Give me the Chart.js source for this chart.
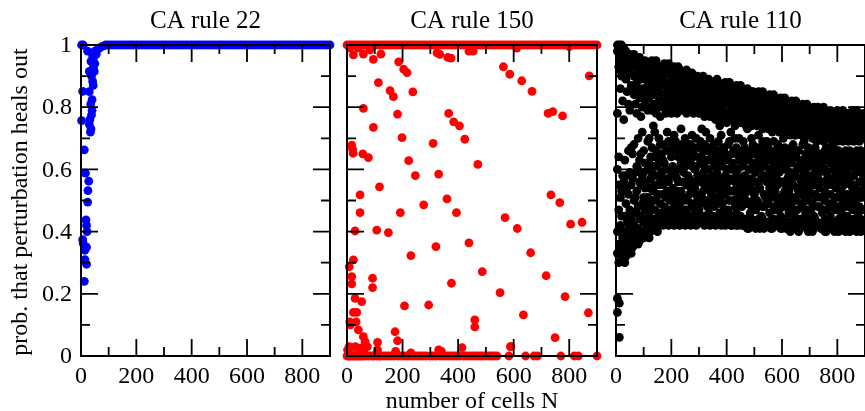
<!DOCTYPE html>
<html>
<head>
<meta charset="utf-8">
<script src="https://cdn.jsdelivr.net/npm/chart.js@4.4.0/dist/chart.umd.min.js"></script>
<style>
  body { margin: 0; background: #fff; }
  #wrap { position: relative; width: 865px; height: 411px; overflow: hidden; background: #fff; }
  #wrap canvas { position: absolute; left: 0; top: 0; }
</style>
</head>
<body>
<div id="wrap">
  <canvas id="c22" width="865" height="411"></canvas>
  <canvas id="c150" width="865" height="411"></canvas>
  <canvas id="c110" width="865" height="411"></canvas>
</div>
<script>
// axis ticks
const xMajor = [0, 200, 400, 600, 800];
const xMinor = [100, 300, 500, 700];
const xTickLabels = ['0', '200', '400', '600', '800'];
const yMajor = [0, 0.2, 0.4, 0.6, 0.8, 1];
const yMinor = [0.1, 0.3, 0.5, 0.7, 0.9];
const yTickLabels = ['0', '0.2', '0.4', '0.6', '0.8', '1'];

// CA rule 22: scattered small-N points, then saturated at 1
const rule22Points = [
  [2, 1.0], [8, 1.0], [24, 0.98], [36, 0.947], [42, 0.965], [45, 0.975], [50, 0.98],
  [30, 0.915], [48, 0.915], [42, 0.883], [6, 0.851], [30, 0.85], [40, 0.824], [40, 0.79],
  [38, 0.775], [2, 0.757], [30, 0.745], [36, 0.73], [34, 0.72], [12, 0.663], [16, 0.588],
  [28, 0.562], [25, 0.532], [24, 0.495], [18, 0.438], [20, 0.42], [22, 0.40], [6, 0.374],
  [8, 0.362], [20, 0.35], [14, 0.34], [14, 0.31], [20, 0.295], [12, 0.24],
  [44, 0.955], [55, 0.97], [60, 0.985], [66, 0.99], [75, 0.995], [85, 0.998],
  [45, 0.93], [50, 0.94], [38, 0.90], [44, 0.87], [35, 0.81], [32, 0.76]
];
const rule22OnesN = [90, 100, 110, 120, 130, 140, 150, 160, 170, 180, 190, 200, 210, 220, 230, 240,
  250, 260, 270, 280, 290, 300, 310, 320, 330, 340, 350, 360, 370, 380, 390, 400, 410, 420, 430,
  440, 450, 460, 470, 480, 490, 500, 510, 520, 530, 540, 550, 560, 570, 580, 590, 600, 610, 620,
  630, 640, 650, 660, 670, 680, 690, 700, 710, 720, 730, 740, 750, 760, 770, 780, 790, 800, 810,
  820, 830, 840, 850, 860, 870, 880, 890, 900];

// CA rule 150
const rule150Points = [
  [23, 0.968], [59, 0.971], [83, 0.984], [95, 0.954], [122, 0.971], [186, 0.946], [204, 0.922],
  [216, 0.911], [113, 0.879], [155, 0.853], [167, 0.834], [237, 0.849], [59, 0.796], [182, 0.778],
  [95, 0.735], [198, 0.702], [17, 0.678], [20, 0.665], [22, 0.652], [57, 0.65], [77, 0.638],
  [222, 0.628], [246, 0.58], [310, 0.684], [330, 0.585], [47, 0.518], [117, 0.544], [47, 0.461],
  [29, 0.402], [107, 0.405], [149, 0.397], [192, 0.461], [276, 0.486], [360, 0.505], [394, 0.461],
  [366, 0.78], [384, 0.753], [405, 0.74], [424, 0.697], [471, 0.616], [439, 0.364], [320, 0.352],
  [230, 0.323], [23, 0.309], [8, 0.287], [17, 0.255], [17, 0.232], [92, 0.25], [92, 0.22],
  [487, 0.271], [376, 0.234], [551, 0.204], [29, 0.185], [53, 0.175], [294, 0.164], [207, 0.161],
  [23, 0.14], [35, 0.14], [10, 0.11], [33, 0.11], [12, 0.10], [41, 0.084], [59, 0.062], [65, 0.046],
  [73, 0.03], [173, 0.078], [182, 0.049], [110, 0.044], [460, 0.116], [460, 0.094], [414, 0.027],
  [589, 0.03], [635, 0.132], [749, 0.059], [785, 0.191], [869, 0.139], [563, 0.93], [586, 0.906],
  [629, 0.885], [666, 0.851], [724, 0.78], [741, 0.786], [776, 0.772], [872, 0.901], [734, 0.518],
  [766, 0.493], [805, 0.424], [846, 0.43], [569, 0.445], [613, 0.41], [661, 0.332], [717, 0.258],
  [324, 0.975], [334, 0.97], [363, 0.96], [375, 0.958], [439, 0.98], [454, 0.98], [611, 0.99],
  [800, 0.995], [10, 0.99], [40, 0.99],
  [2, 0.02], [12, 0.025], [40, 0.02], [60, 0.015], [110, 0.02], [175, 0.015], [230, 0.01],
  [330, 0.02], [340, 0.015], [589, 0.03], [8, 0.03], [30, 0.03], [50, 0.025]
];
const rule150OnesN = [0, 10, 20, 30, 40, 50, 60, 70, 80, 90, 100, 110, 120, 130, 140, 150, 160, 170,
  180, 190, 200, 210, 220, 230, 240, 250, 260, 270, 280, 290, 300, 310, 320, 330, 340, 350, 360,
  370, 380, 390, 400, 410, 420, 430, 440, 450, 460, 470, 480, 490, 500, 510, 520, 530, 540, 550,
  560, 570, 580, 590, 600, 610, 620, 630, 640, 650, 660, 670, 680, 690, 700, 710, 720, 730, 740,
  750, 760, 770, 780, 790, 800, 810, 820, 830, 840, 850, 860, 870, 880, 890, 900];
const rule150ZerosN = [0, 5, 10, 15, 20, 25, 30, 35, 40, 45, 50, 55, 60, 70, 80, 90, 95, 105, 115,
  120, 130, 140, 150, 160, 170, 185, 195, 205, 215, 225, 235, 245, 255, 265, 275, 285, 300, 310,
  320, 335, 345, 355, 365, 375, 385, 395, 405, 420, 430, 440, 450, 460, 470, 480, 490, 500, 510,
  520, 530, 540, 583, 643, 673, 686, 770, 818, 833, 900];

// CA rule 110: values per N column (odd columns)
const rule110N = [5, 12, 20, 28, 36, 45, 55, 65, 75, 85, 95, 105, 115, 125, 135, 145, 155, 165, 175,
  185, 195, 205, 215, 225, 235, 245, 255, 265, 275, 285, 295, 305, 315, 325, 335, 345, 355, 365,
  375, 385, 395, 405, 415, 425, 435, 445, 455, 465, 475, 485, 495, 505, 515, 525, 535, 545, 555,
  565, 575, 585, 595, 605, 615, 625, 635, 645, 655, 665, 675, 685, 695, 705, 715, 725, 735, 745,
  755, 765, 775, 785, 795, 805, 815, 825, 835, 845, 855, 865, 875, 885, 895];
const rule110P = [
  [1.0, 0.98, 0.78, 0.60, 0.40, 0.33, 0.185, 0.14],
  [1.0, 0.95, 0.92, 0.55, 0.36, 0.17, 0.06],
  [1.0, 0.97, 0.90, 0.53, 0.45, 0.31],
  [0.99, 0.94, 0.76, 0.56, 0.40, 0.34],
  [0.98, 0.89, 0.58, 0.49, 0.38, 0.32],
  [0.96, 0.92, 0.81, 0.66, 0.52, 0.41, 0.35],
  [0.95, 0.87, 0.67, 0.55, 0.44, 0.37, 0.33],
  [0.97, 0.90, 0.84, 0.68, 0.50, 0.42, 0.36],
  [0.94, 0.88, 0.78, 0.61, 0.53, 0.46, 0.38],
  [0.96, 0.91, 0.83, 0.63, 0.56, 0.44, 0.37],
  [0.93, 0.86, 0.80, 0.72, 0.58, 0.49, 0.40],
  [0.95, 0.89, 0.82, 0.62, 0.54, 0.47, 0.39],
  [0.93, 0.87, 0.79, 0.69, 0.60, 0.51, 0.42],
  [0.94, 0.90, 0.84, 0.64, 0.57, 0.48, 0.40],
  [0.92, 0.86, 0.81, 0.74, 0.61, 0.53, 0.44],
  [0.95, 0.88, 0.78, 0.66, 0.58, 0.50, 0.41],
  [0.91, 0.85, 0.82, 0.70, 0.63, 0.55, 0.46, 0.42],
  [0.93, 0.89, 0.80, 0.65, 0.59, 0.52, 0.43],
  [0.94, 0.87, 0.83, 0.68, 0.62, 0.48, 0.44],
  [0.91, 0.86, 0.79, 0.72, 0.57, 0.53, 0.45],
  [0.93, 0.88, 0.81, 0.66, 0.60, 0.50, 0.43],
  [0.92, 0.85, 0.80, 0.67, 0.61, 0.54, 0.47, 0.43],
  [0.90, 0.87, 0.82, 0.69, 0.58, 0.51, 0.44],
  [0.93, 0.84, 0.79, 0.64, 0.56, 0.49, 0.43],
  [0.91, 0.88, 0.81, 0.73, 0.62, 0.53, 0.46, 0.44],
  [0.89, 0.85, 0.80, 0.66, 0.59, 0.50, 0.43],
  [0.92, 0.86, 0.78, 0.68, 0.63, 0.55, 0.47, 0.44],
  [0.90, 0.83, 0.80, 0.65, 0.57, 0.52, 0.43],
  [0.91, 0.87, 0.82, 0.71, 0.61, 0.48, 0.45],
  [0.89, 0.84, 0.79, 0.67, 0.60, 0.54, 0.46, 0.43],
  [0.90, 0.86, 0.81, 0.64, 0.58, 0.51, 0.44],
  [0.88, 0.83, 0.79, 0.69, 0.62, 0.56, 0.49, 0.43],
  [0.90, 0.85, 0.80, 0.66, 0.59, 0.53, 0.45],
  [0.87, 0.84, 0.78, 0.72, 0.63, 0.57, 0.50, 0.43],
  [0.89, 0.82, 0.79, 0.67, 0.60, 0.54, 0.46, 0.44],
  [0.88, 0.85, 0.80, 0.65, 0.58, 0.52, 0.43],
  [0.86, 0.83, 0.78, 0.68, 0.62, 0.55, 0.48, 0.44],
  [0.89, 0.84, 0.80, 0.66, 0.59, 0.51, 0.43],
  [0.87, 0.82, 0.77, 0.74, 0.64, 0.57, 0.53, 0.46, 0.43],
  [0.86, 0.84, 0.79, 0.67, 0.61, 0.55, 0.49, 0.44],
  [0.88, 0.83, 0.78, 0.65, 0.58, 0.52, 0.42],
  [0.86, 0.81, 0.77, 0.68, 0.63, 0.56, 0.47, 0.43],
  [0.87, 0.84, 0.79, 0.72, 0.60, 0.53, 0.45, 0.42],
  [0.85, 0.82, 0.77, 0.66, 0.62, 0.57, 0.50, 0.43],
  [0.87, 0.83, 0.78, 0.67, 0.59, 0.54, 0.46, 0.42],
  [0.85, 0.81, 0.76, 0.70, 0.64, 0.56, 0.51, 0.44],
  [0.86, 0.83, 0.78, 0.65, 0.61, 0.55, 0.48, 0.42],
  [0.84, 0.80, 0.77, 0.67, 0.58, 0.52, 0.44],
  [0.86, 0.82, 0.76, 0.73, 0.63, 0.57, 0.49, 0.43, 0.41],
  [0.84, 0.81, 0.78, 0.66, 0.60, 0.54, 0.46, 0.42],
  [0.85, 0.79, 0.75, 0.68, 0.62, 0.56, 0.50, 0.43],
  [0.83, 0.81, 0.77, 0.65, 0.59, 0.53, 0.47, 0.41],
  [0.85, 0.80, 0.76, 0.71, 0.64, 0.55, 0.49, 0.44],
  [0.83, 0.79, 0.75, 0.66, 0.61, 0.57, 0.45, 0.42],
  [0.84, 0.81, 0.77, 0.67, 0.58, 0.52, 0.48, 0.41],
  [0.82, 0.79, 0.74, 0.69, 0.63, 0.56, 0.50, 0.43],
  [0.84, 0.80, 0.76, 0.65, 0.60, 0.54, 0.46, 0.42],
  [0.82, 0.78, 0.75, 0.72, 0.64, 0.57, 0.51, 0.44, 0.41],
  [0.83, 0.80, 0.76, 0.66, 0.59, 0.53, 0.47, 0.42],
  [0.81, 0.78, 0.74, 0.68, 0.62, 0.55, 0.49, 0.43],
  [0.83, 0.79, 0.75, 0.65, 0.60, 0.56, 0.45, 0.41],
  [0.81, 0.77, 0.73, 0.70, 0.63, 0.52, 0.48, 0.42],
  [0.82, 0.79, 0.75, 0.66, 0.61, 0.55, 0.50, 0.44, 0.41],
  [0.80, 0.77, 0.74, 0.64, 0.58, 0.53, 0.46, 0.42],
  [0.82, 0.78, 0.73, 0.67, 0.62, 0.56, 0.49, 0.43],
  [0.80, 0.76, 0.74, 0.71, 0.65, 0.59, 0.51, 0.45, 0.41],
  [0.81, 0.78, 0.72, 0.66, 0.60, 0.54, 0.47, 0.42],
  [0.79, 0.76, 0.74, 0.63, 0.57, 0.52, 0.44, 0.41],
  [0.81, 0.77, 0.73, 0.68, 0.62, 0.55, 0.49, 0.43],
  [0.79, 0.75, 0.72, 0.65, 0.60, 0.53, 0.46, 0.42],
  [0.80, 0.77, 0.73, 0.67, 0.63, 0.56, 0.50, 0.44, 0.40],
  [0.78, 0.75, 0.71, 0.64, 0.58, 0.52, 0.47, 0.42],
  [0.80, 0.76, 0.72, 0.66, 0.61, 0.55, 0.45, 0.41],
  [0.78, 0.74, 0.71, 0.69, 0.63, 0.57, 0.51, 0.43],
  [0.79, 0.76, 0.72, 0.65, 0.59, 0.54, 0.48, 0.42],
  [0.78, 0.74, 0.70, 0.64, 0.61, 0.56, 0.46, 0.41],
  [0.79, 0.75, 0.72, 0.66, 0.60, 0.53, 0.50, 0.44, 0.40],
  [0.77, 0.74, 0.71, 0.63, 0.58, 0.55, 0.47, 0.42],
  [0.79, 0.75, 0.70, 0.65, 0.62, 0.52, 0.45, 0.41],
  [0.77, 0.73, 0.71, 0.67, 0.60, 0.57, 0.49, 0.43],
  [0.78, 0.75, 0.72, 0.64, 0.59, 0.54, 0.47, 0.42],
  [0.77, 0.74, 0.70, 0.66, 0.61, 0.56, 0.51, 0.44, 0.40],
  [0.78, 0.73, 0.71, 0.63, 0.58, 0.53, 0.46, 0.41],
  [0.76, 0.74, 0.70, 0.65, 0.62, 0.55, 0.48, 0.43],
  [0.78, 0.75, 0.72, 0.64, 0.59, 0.52, 0.45, 0.41],
  [0.77, 0.73, 0.70, 0.66, 0.61, 0.57, 0.50, 0.44, 0.40],
  [0.79, 0.74, 0.71, 0.63, 0.58, 0.54, 0.47, 0.42],
  [0.77, 0.73, 0.70, 0.65, 0.60, 0.55, 0.49, 0.43],
  [0.78, 0.75, 0.71, 0.64, 0.62, 0.53, 0.46, 0.41],
  [0.76, 0.73, 0.70, 0.66, 0.59, 0.56, 0.51, 0.44, 0.40],
  [0.78, 0.74, 0.71, 0.63, 0.58, 0.54, 0.47, 0.42]
];

// CA rule 110: values per N column (even columns)
const rule110NEven = [10, 16, 24, 32, 40, 50, 60, 70, 80, 90, 100, 110, 120, 130, 140, 150, 160, 170,
  180, 190, 200, 210, 220, 230, 240, 250, 260, 270, 280, 290, 300, 310, 320, 330, 340, 350, 360,
  370, 380, 390, 400, 410, 420, 430, 440, 450, 460, 470, 480, 490, 500, 510, 520, 530, 540, 550,
  560, 570, 580, 590, 600, 610, 620, 630, 640, 650, 660, 670, 680, 690, 700, 710, 720, 730, 740,
  750, 760, 770, 780, 790, 800, 810, 820, 830, 840, 850, 860, 870, 880, 890, 900];
const rule110PEven = [
  [0.99, 0.93, 0.64, 0.47, 0.30],
  [0.97, 0.86, 0.51, 0.42, 0.35],
  [0.95, 0.82, 0.58, 0.38, 0.32],
  [0.97, 0.92, 0.63, 0.45, 0.36, 0.30],
  [0.93, 0.85, 0.54, 0.43, 0.34],
  [0.97, 0.91, 0.79, 0.59, 0.47, 0.39, 0.34],
  [0.93, 0.85, 0.65, 0.57, 0.46, 0.35],
  [0.95, 0.86, 0.81, 0.59, 0.51, 0.40, 0.37],
  [0.92, 0.85, 0.70, 0.60, 0.48, 0.41, 0.36],
  [0.95, 0.89, 0.77, 0.65, 0.55, 0.45, 0.39],
  [0.91, 0.84, 0.66, 0.59, 0.51, 0.43, 0.38],
  [0.94, 0.85, 0.80, 0.56, 0.49, 0.44, 0.41],
  [0.91, 0.83, 0.70, 0.62, 0.54, 0.46, 0.38],
  [0.95, 0.88, 0.79, 0.67, 0.59, 0.50, 0.43],
  [0.90, 0.84, 0.72, 0.64, 0.55, 0.47, 0.42],
  [0.93, 0.86, 0.80, 0.61, 0.52, 0.44, 0.40],
  [0.92, 0.87, 0.77, 0.68, 0.57, 0.49, 0.45],
  [0.90, 0.84, 0.81, 0.63, 0.55, 0.46, 0.42],
  [0.92, 0.88, 0.78, 0.66, 0.60, 0.51, 0.44],
  [0.94, 0.84, 0.82, 0.69, 0.56, 0.47, 0.42],
  [0.90, 0.86, 0.78, 0.64, 0.58, 0.52, 0.45],
  [0.93, 0.83, 0.81, 0.71, 0.60, 0.49, 0.42],
  [0.89, 0.86, 0.78, 0.66, 0.57, 0.53, 0.46],
  [0.92, 0.82, 0.80, 0.68, 0.60, 0.48, 0.42],
  [0.90, 0.86, 0.79, 0.64, 0.56, 0.51, 0.45],
  [0.88, 0.83, 0.81, 0.70, 0.61, 0.47, 0.42],
  [0.91, 0.85, 0.79, 0.66, 0.58, 0.50, 0.45],
  [0.88, 0.82, 0.80, 0.68, 0.63, 0.54, 0.42],
  [0.90, 0.86, 0.78, 0.65, 0.56, 0.49, 0.44],
  [0.87, 0.83, 0.80, 0.70, 0.61, 0.52, 0.42],
  [0.89, 0.85, 0.78, 0.67, 0.57, 0.47, 0.45],
  [0.86, 0.82, 0.80, 0.73, 0.64, 0.51, 0.44],
  [0.88, 0.83, 0.77, 0.68, 0.61, 0.55, 0.42],
  [0.86, 0.81, 0.79, 0.66, 0.56, 0.48, 0.45],
  [0.87, 0.84, 0.77, 0.70, 0.63, 0.53, 0.42],
  [0.87, 0.81, 0.79, 0.67, 0.57, 0.50, 0.45],
  [0.85, 0.82, 0.76, 0.64, 0.61, 0.54, 0.42],
  [0.88, 0.83, 0.79, 0.69, 0.56, 0.49, 0.44],
  [0.85, 0.80, 0.76, 0.71, 0.63, 0.51, 0.42],
  [0.87, 0.82, 0.78, 0.66, 0.57, 0.47, 0.45],
  [0.84, 0.81, 0.75, 0.64, 0.60, 0.54, 0.43],
  [0.88, 0.82, 0.78, 0.69, 0.57, 0.50, 0.44],
  [0.84, 0.80, 0.76, 0.65, 0.61, 0.53, 0.42],
  [0.86, 0.81, 0.74, 0.70, 0.56, 0.48, 0.44],
  [0.83, 0.79, 0.77, 0.66, 0.60, 0.52, 0.42],
  [0.87, 0.82, 0.75, 0.63, 0.57, 0.49, 0.45],
  [0.83, 0.79, 0.76, 0.69, 0.62, 0.54, 0.42],
  [0.85, 0.81, 0.74, 0.66, 0.56, 0.50, 0.44],
  [0.83, 0.78, 0.76, 0.64, 0.60, 0.53, 0.41],
  [0.85, 0.80, 0.74, 0.70, 0.57, 0.48, 0.44],
  [0.82, 0.78, 0.76, 0.65, 0.61, 0.52, 0.42],
  [0.84, 0.80, 0.74, 0.67, 0.56, 0.50, 0.43],
  [0.82, 0.77, 0.75, 0.63, 0.60, 0.54, 0.41],
  [0.85, 0.79, 0.73, 0.69, 0.57, 0.48, 0.44],
  [0.81, 0.78, 0.75, 0.65, 0.61, 0.51, 0.42],
  [0.83, 0.78, 0.73, 0.67, 0.58, 0.49, 0.43],
  [0.81, 0.77, 0.74, 0.63, 0.55, 0.52, 0.41],
  [0.84, 0.79, 0.73, 0.69, 0.61, 0.48, 0.44],
  [0.80, 0.77, 0.75, 0.64, 0.57, 0.51, 0.42],
  [0.82, 0.78, 0.72, 0.66, 0.59, 0.47, 0.43],
  [0.80, 0.76, 0.74, 0.62, 0.56, 0.50, 0.41],
  [0.83, 0.78, 0.72, 0.67, 0.60, 0.53, 0.44],
  [0.80, 0.76, 0.74, 0.65, 0.57, 0.48, 0.42],
  [0.81, 0.77, 0.71, 0.63, 0.59, 0.51, 0.40],
  [0.79, 0.75, 0.73, 0.68, 0.55, 0.47, 0.43],
  [0.82, 0.77, 0.71, 0.64, 0.58, 0.50, 0.42],
  [0.79, 0.75, 0.73, 0.66, 0.61, 0.53, 0.40],
  [0.80, 0.76, 0.71, 0.62, 0.56, 0.48, 0.44],
  [0.78, 0.75, 0.73, 0.69, 0.59, 0.51, 0.42],
  [0.81, 0.76, 0.71, 0.64, 0.57, 0.47, 0.41],
  [0.78, 0.74, 0.72, 0.66, 0.61, 0.54, 0.43],
  [0.79, 0.75, 0.70, 0.63, 0.56, 0.49, 0.40],
  [0.77, 0.73, 0.72, 0.67, 0.59, 0.52, 0.44],
  [0.80, 0.75, 0.70, 0.64, 0.57, 0.48, 0.42],
  [0.77, 0.73, 0.71, 0.62, 0.60, 0.51, 0.41],
  [0.80, 0.75, 0.69, 0.65, 0.56, 0.47, 0.43],
  [0.78, 0.72, 0.71, 0.67, 0.59, 0.52, 0.40],
  [0.76, 0.73, 0.70, 0.64, 0.57, 0.49, 0.44],
  [0.78, 0.75, 0.69, 0.62, 0.55, 0.48, 0.42],
  [0.76, 0.72, 0.71, 0.66, 0.61, 0.51, 0.40],
  [0.79, 0.74, 0.69, 0.63, 0.57, 0.48, 0.43],
  [0.76, 0.72, 0.70, 0.65, 0.59, 0.52, 0.41],
  [0.79, 0.74, 0.69, 0.62, 0.56, 0.49, 0.44],
  [0.77, 0.72, 0.71, 0.66, 0.60, 0.51, 0.40],
  [0.75, 0.73, 0.69, 0.63, 0.57, 0.48, 0.43],
  [0.78, 0.72, 0.70, 0.65, 0.55, 0.52, 0.41],
  [0.76, 0.74, 0.69, 0.62, 0.58, 0.49, 0.44],
  [0.79, 0.72, 0.71, 0.66, 0.61, 0.51, 0.40],
  [0.77, 0.74, 0.69, 0.63, 0.56, 0.48, 0.43],
  [0.75, 0.72, 0.70, 0.65, 0.60, 0.52, 0.41],
  [0.77, 0.73, 0.61, 0.55, 0.47, 0.42]
];

const FONT = '"Liberation Serif", "Times New Roman", serif';

function decor(cfg) {
  return {
    id: 'decor',
    afterDatasetsDraw(chart) {
      const ctx = chart.ctx;
      const a = chart.chartArea;
      const x = chart.scales.x, y = chart.scales.y;
      ctx.save();
      ctx.strokeStyle = '#000';
      ctx.lineWidth = 2;
      ctx.strokeRect(a.left, a.top, a.right - a.left, a.bottom - a.top);

      ctx.lineWidth = 1.8;
      ctx.beginPath();
      const xt = (v, len) => {
        const px = x.getPixelForValue(v);
        ctx.moveTo(px, a.bottom); ctx.lineTo(px, a.bottom - len);
        ctx.moveTo(px, a.top); ctx.lineTo(px, a.top + len);
      };
      const yt = (v, len) => {
        const py = y.getPixelForValue(v);
        ctx.moveTo(a.left, py); ctx.lineTo(a.left + len, py);
        ctx.moveTo(a.right, py); ctx.lineTo(a.right - len, py);
      };
      xMajor.forEach(v => xt(v, 17));
      xMinor.forEach(v => xt(v, 9));
      yMajor.forEach(v => yt(v, 17));
      yMinor.forEach(v => yt(v, 9));
      ctx.stroke();

      ctx.fillStyle = '#000';
      ctx.font = '24px ' + FONT;
      ctx.textAlign = 'center';
      ctx.textBaseline = 'alphabetic';
      xTickLabels.forEach((t, i) => ctx.fillText(t, x.getPixelForValue(xMajor[i]), 383));

      if (cfg.yLabels) {
        ctx.textAlign = 'right';
        ctx.textBaseline = 'middle';
        yTickLabels.forEach((t, i) => ctx.fillText(t, a.left - 9, y.getPixelForValue(yMajor[i]) + 1));
        ctx.save();
        ctx.translate(27, 202);
        ctx.rotate(-Math.PI / 2);
        ctx.textAlign = 'center';
        ctx.textBaseline = 'alphabetic';
        ctx.fillText('prob. that perturbation heals out', 0, 0);
        ctx.restore();
      }
      if (cfg.xTitle) {
        ctx.textAlign = 'center';
        ctx.textBaseline = 'alphabetic';
        ctx.fillText(cfg.xTitle, (a.left + a.right) / 2, 408);
      }
      ctx.font = '25px ' + FONT;
      ctx.textAlign = 'center';
      ctx.textBaseline = 'alphabetic';
      ctx.fillText(cfg.title, (a.left + a.right) / 2, 28);
      ctx.restore();
    }
  };
}

function makePanel(id, points, color, left, right, cfg) {
  new Chart(document.getElementById(id), {
    type: 'scatter',
    data: {
      datasets: [{
        data: points,
        pointRadius: 4.4,
        pointBorderWidth: 0,
        pointBackgroundColor: color,
        pointBorderColor: color,
        clip: false
      }]
    },
    options: {
      responsive: false,
      animation: false,
      events: [],
      layout: { autoPadding: false, padding: { left: left, right: 865 - right, top: 45, bottom: 55 } },
      plugins: { legend: { display: false }, tooltip: { enabled: false } },
      scales: {
        x: { type: 'linear', min: 0, max: 900, display: false },
        y: { type: 'linear', min: 0, max: 1, display: false }
      }
    },
    plugins: [decor(cfg)]
  });
}

const pts22 = rule22Points.map(p => ({ x: p[0], y: p[1] }))
  .concat(rule22OnesN.map(n => ({ x: n, y: 1 })));
const pts150 = rule150OnesN.map(n => ({ x: n, y: 1 }))
  .concat(rule150ZerosN.map(n => ({ x: n, y: 0 })))
  .concat(rule150Points.map(p => ({ x: p[0], y: p[1] })));
const pts110 = rule110N.flatMap((n, i) => rule110P[i].map(p => ({ x: n, y: p })))
  .concat(rule110NEven.flatMap((n, i) => rule110PEven[i].map(p => ({ x: n, y: p }))));

makePanel('c22', pts22, '#0000ff', 81, 330, { title: 'CA rule 22', yLabels: true });
makePanel('c150', pts150, '#ff0000', 347, 597, { title: 'CA rule 150', xTitle: 'number of cells N' });
makePanel('c110', pts110, '#000000', 616, 865, { title: 'CA rule 110' });
</script>
</body>
</html>
